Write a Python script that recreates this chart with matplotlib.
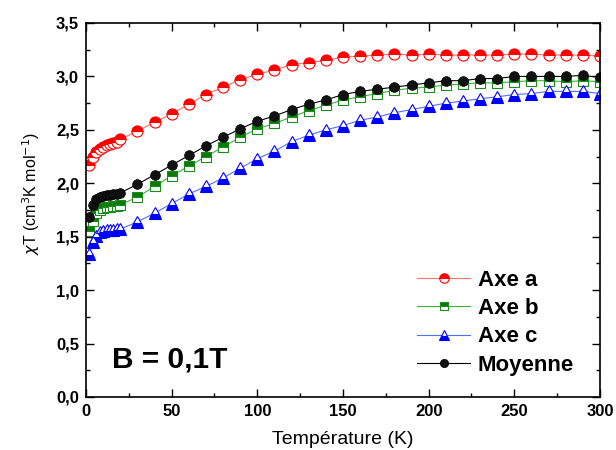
import numpy as np
import matplotlib
matplotlib.use("Agg")
from matplotlib import pyplot as plt
from matplotlib.ticker import MultipleLocator, FuncFormatter

# temperatures (K)
T = [2, 4, 6, 8, 10, 12, 14, 16, 18, 20,
     30, 40, 50, 60, 70, 80, 90, 100, 110, 120, 130, 140, 150, 160, 170,
     180, 190, 200, 210, 220, 230, 240, 250, 260, 270, 280, 290, 300]

axe_a = [2.17, 2.25, 2.29, 2.32, 2.34, 2.36, 2.37, 2.38, 2.39, 2.41,
         2.49, 2.57, 2.65, 2.74, 2.83, 2.90, 2.97, 3.02, 3.06, 3.11, 3.13, 3.15, 3.18, 3.19, 3.20,
         3.21, 3.20, 3.21, 3.20, 3.20, 3.20, 3.20, 3.21, 3.21, 3.20, 3.20, 3.20, 3.19]

axe_b = [1.55, 1.65, 1.72, 1.75, 1.77, 1.78, 1.78, 1.79, 1.79, 1.80,
         1.87, 1.97, 2.07, 2.16, 2.25, 2.34, 2.43, 2.51, 2.56, 2.62, 2.68, 2.73, 2.78, 2.81, 2.84,
         2.87, 2.89, 2.90, 2.92, 2.93, 2.94, 2.94, 2.95, 2.96, 2.96, 2.95, 2.96, 2.95]

axe_c = [1.34, 1.45, 1.51, 1.54, 1.55, 1.56, 1.56, 1.56, 1.57, 1.57,
         1.64, 1.72, 1.81, 1.90, 1.97, 2.05, 2.14, 2.23, 2.30, 2.39, 2.45, 2.50, 2.54, 2.59, 2.62,
         2.66, 2.69, 2.72, 2.75, 2.77, 2.79, 2.81, 2.83, 2.84, 2.86, 2.86, 2.86, 2.84]

moyenne = [1.68, 1.80, 1.85, 1.87, 1.88, 1.89, 1.89, 1.90, 1.90, 1.91,
           1.99, 2.08, 2.17, 2.26, 2.35, 2.43, 2.51, 2.58, 2.63, 2.69, 2.74, 2.78, 2.83, 2.86, 2.88,
           2.90, 2.92, 2.94, 2.96, 2.96, 2.98, 2.98, 3.00, 3.00, 3.00, 3.00, 3.01, 2.99]

plt.rcParams['font.family'] = ['Liberation Sans', 'DejaVu Sans']

fig = plt.figure(figsize=(6.16, 4.5), dpi=100)
ax = fig.add_axes([0.1396, 0.1178, 0.8344, 0.8311])

ax.plot(T, axe_a, color='#ff7070', lw=0.8, marker='o', ms=8, mec='red', mew=0.8,
        mfc='red', fillstyle='top', markerfacecoloralt='white', label='Axe a')
ax.plot(T, axe_b, color='#40b040', lw=0.8, marker='s', ms=7, mec='#1a8a1a', mew=0.8,
        mfc='#0a7a0a', fillstyle='top', markerfacecoloralt='white', label='Axe b')
ax.plot(T, axe_c, color='#5070ff', lw=0.8, marker='^', ms=8.5, mec='blue', mew=0.8,
        mfc='blue', fillstyle='bottom', markerfacecoloralt='white', label='Axe c')
ax.plot(T, moyenne, color='black', lw=0.8, marker='o', ms=7, mec='black', mew=0.5,
        mfc='#111111', label='Moyenne')

ax.set_xlim(0, 300)
ax.set_ylim(0, 3.5)
ax.xaxis.set_major_locator(MultipleLocator(50))
ax.xaxis.set_minor_locator(MultipleLocator(25))
ax.yaxis.set_major_locator(MultipleLocator(0.5))
ax.yaxis.set_minor_locator(MultipleLocator(0.25))
ax.yaxis.set_major_formatter(FuncFormatter(lambda v, p: f"{v:.1f}".replace('.', ',')))
ax.tick_params(which='both', direction='in', top=True, right=True, width=1)
ax.tick_params(which='major', length=6, labelsize=12, pad=5)
ax.tick_params(which='minor', length=3)
for lab in ax.get_xticklabels() + ax.get_yticklabels():
    lab.set_fontweight('bold')
for s in ax.spines.values():
    s.set_linewidth(1.2)

ax.set_xlabel('Température (K)', fontsize=14, labelpad=9)
ax.set_ylabel(r'$\chi$T (cm$^3$K mol$^{-1}$)', fontsize=11.5)
ax.yaxis.set_label_coords(-0.085, 0.543)

ax.text(0.05, 0.1, 'B = 0,1T', transform=ax.transAxes, fontsize=21.5, fontweight='bold',
        va='center', ha='left')

leg = ax.legend(loc='upper left', bbox_to_anchor=(0.644, 0.34), frameon=False,
                prop={'weight': 'bold', 'size': 16}, handlelength=2.4,
                labelspacing=0.33, handletextpad=0.33, borderpad=0, borderaxespad=0,
                markerscale=0.85)

fig.savefig('out.png', dpi=100)
